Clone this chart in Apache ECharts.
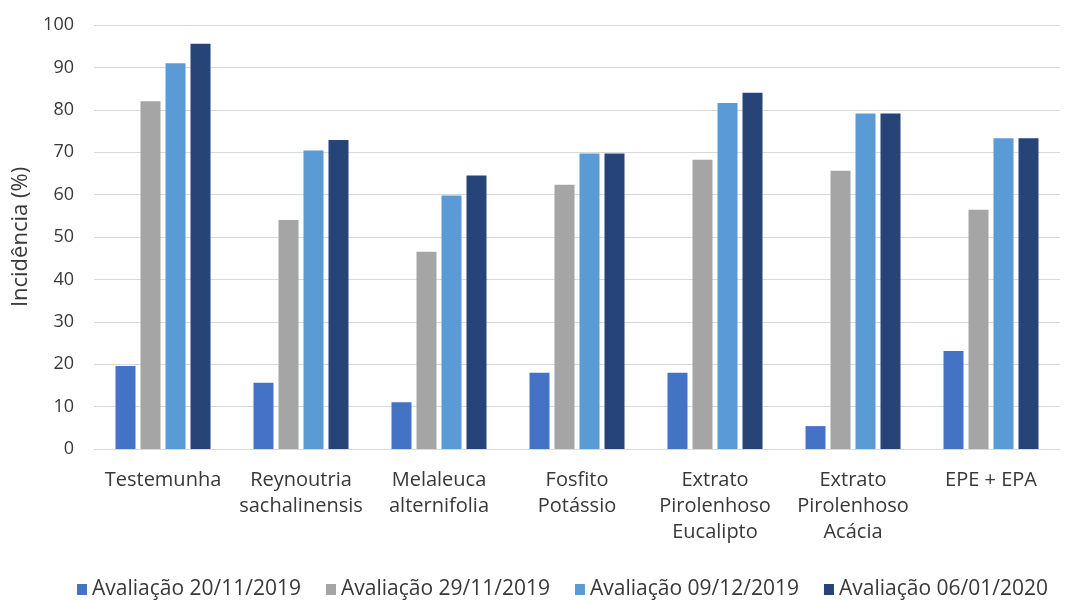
<!DOCTYPE html>
<html>
<head>
<meta charset="utf-8">
<script src="https://cdn.jsdelivr.net/npm/echarts@6/dist/echarts.min.js"></script>
<style>
  html, body { margin: 0; padding: 0; background: #fff; }
  #chart { width: 1066px; height: 603px; }
</style>
</head>
<body>
<div id="chart"></div>
<script>
// Treatments (x categories)
const categories = [
  'Testemunha',
  'Reynoutria\nsachalinensis',
  'Melaleuca\nalternifolia',
  'Fosfito\nPotássio',
  'Extrato\nPirolenhoso\nEucalipto',
  'Extrato\nPirolenhoso\nAcácia',
  'EPE + EPA'
];

// Incidence (%) per evaluation date
const aval20112019 = [19.6, 15.6, 11.0, 18.0, 18.0, 5.4, 23.1];
const aval29112019 = [82.0, 54.0, 46.5, 62.3, 68.2, 65.6, 56.4];
const aval09122019 = [91.0, 70.4, 59.8, 69.7, 81.6, 79.1, 73.3];
const aval06012020 = [95.6, 72.9, 64.5, 69.7, 84.0, 79.1, 73.3];

const seriesNames = [
  'Avaliação 20/11/2019',
  'Avaliação 29/11/2019',
  'Avaliação 09/12/2019',
  'Avaliação 06/01/2020'
];
const seriesData = [aval20112019, aval29112019, aval09122019, aval06012020];
const colors = ['#4472C4', '#A5A5A5', '#5B9BD5', '#264478'];

const yTicks = { min: 0, max: 100, interval: 10 };
const fontFamily = 'Open Sans, Noto Sans, sans-serif';
const textColor = '#383838';

const chart = echarts.init(document.getElementById('chart'));
chart.setOption({
  animation: false,
  color: colors,
  textStyle: { fontFamily: fontFamily },
  grid: { left: 94, right: 6, top: 25, bottom: 154 },
  legend: {
    bottom: -2,
    left: 72,
    itemWidth: 10,
    itemHeight: 11,
    itemGap: 25,
    icon: 'rect',
    textStyle: { fontSize: 21, color: textColor, fontFamily: fontFamily },
    data: seriesNames
  },
  xAxis: {
    type: 'category',
    data: categories,
    axisLine: { lineStyle: { color: '#d9d9d9', width: 1 } },
    axisTick: { show: false },
    axisLabel: {
      interval: 0,
      color: textColor,
      fontSize: 20,
      lineHeight: 26,
      margin: 18
    }
  },
  yAxis: {
    type: 'value',
    min: yTicks.min,
    max: yTicks.max,
    interval: yTicks.interval,
    name: 'Incidência (%)',
    nameLocation: 'middle',
    nameGap: 57,
    nameTextStyle: { fontSize: 22, color: textColor },
    axisLine: { show: false },
    axisTick: { show: false },
    axisLabel: { color: textColor, fontSize: 18, margin: 20 },
    splitLine: { lineStyle: { color: '#d9d9d9', width: 1 } }
  },
  series: seriesData.map((d, i) => ({
    name: seriesNames[i],
    type: 'bar',
    data: d,
    barWidth: 20,
    barGap: '25%',
    barCategoryGap: '31%'
  }))
});
</script>
</body>
</html>
